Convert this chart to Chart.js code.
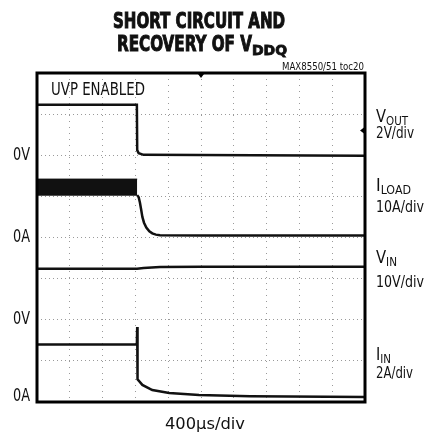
<!DOCTYPE html>
<html>
<head>
<meta charset="utf-8">
<script src="https://cdn.jsdelivr.net/npm/chart.js@4.4.1/dist/chart.umd.min.js"></script>
<style>
  html, body { margin: 0; padding: 0; background: #fff; }
  #wrap { width: 424px; height: 439px; }
</style>
</head>
<body>
<div id="wrap"><canvas id="scope" width="424" height="439"></canvas></div>
<script>
// time base 400us/div, 10 divisions across
const timeTicks = [0, 400, 800, 1200, 1600, 2000, 2400, 2800, 3200, 3600, 4000];

// VOUT (V), 2V/div
const voutTime = [0, 1218, 1222, 1240, 1300, 4000];
const voutVolts = [2.45, 2.45, 0.25, 0.1, 0.02, -0.03];

// ILOAD (A), 10A/div - switching noise band before the short, then decay
const iloadBandTime = [0, 1222];
const iloadBandMax = [14.2, 14.2];
const iloadBandMin = [10.3, 10.3];
const iloadTime = [1222, 1240, 1255, 1270, 1285, 1305, 1333, 1370, 1406, 1450, 1500, 2000, 4000];
const iloadAmps = [10.3, 9.8, 8.5, 6.8, 5.0, 3.6, 2.4, 1.5, 1.0, 0.7, 0.55, 0.5, 0.5];

// VIN (V), 10V/div
const vinTime = [0, 1220, 1300, 1500, 2000, 4000];
const vinVolts = [12.4, 12.4, 12.6, 12.8, 12.9, 12.9];

// IIN (A), 2A/div
const iinTime = [0, 1218, 1222, 1226, 1285, 1406, 1612, 1976, 2600, 4000];
const iinAmps = [2.8, 2.8, 3.65, 1.1, 0.83, 0.58, 0.44, 0.34, 0.28, 0.24];

// channel ground position (divisions from bottom) and scale per division
const voutGround = 6, voutPerDiv = 2;
const iloadGround = 4, iloadPerDiv = 10;
const vinGround = 2, vinPerDiv = 10;
const iinGround = 0, iinPerDiv = 2;

const FONT = '"Liberation Sans Narrow", "DejaVu Sans Condensed", "Roboto", sans-serif';
const INK = '#111';

const toPoints = (times, vals, ground, perDiv) =>
    times.map((t, i) => ({ x: t, y: ground + vals[i] / perDiv }));

const trace = (data, extra) => Object.assign({
    data,
    borderColor: INK,
    borderWidth: 2.5,
    pointRadius: 0,
    fill: false,
    tension: 0
}, extra || {});

// squeeze text horizontally to a target width (condensed scope-plot lettering)
const fitText = (ctx, text, x, y, width, heavy) => {
    const w = ctx.measureText(text).width;
    const sx = width ? width / w : 1;
    ctx.save();
    ctx.translate(x, y);
    ctx.scale(sx, 1);
    ctx.fillText(text, 0, 0);
    if (heavy) {
        ctx.lineWidth = heavy;
        ctx.strokeStyle = ctx.fillStyle;
        ctx.strokeText(text, 0, 0);
    }
    ctx.restore();
    return w * sx;
};

// main letter + subscript squeezed together to a total width
const subLabel = (ctx, main, sub, x, y, size, width) => {
    const mainFont = `${size}px ${FONT}`;
    const subFont = `${Math.round(size * 0.7)}px ${FONT}`;
    ctx.font = mainFont;
    const wm = ctx.measureText(main).width;
    ctx.font = subFont;
    const ws = ctx.measureText(sub).width;
    const k = width / (wm + ws);
    ctx.font = mainFont;
    fitText(ctx, main, x, y, wm * k);
    ctx.font = subFont;
    fitText(ctx, sub, x + wm * k, y + 3, ws * k);
};

const decor = {
    id: 'decor',
    afterDraw(chart) {
        const { ctx, chartArea: a } = chart;
        ctx.save();
        // frame
        ctx.strokeStyle = '#000';
        ctx.lineWidth = 3;
        ctx.strokeRect(a.left, a.top, a.right - a.left, a.bottom - a.top);

        // trigger markers
        ctx.fillStyle = '#000';
        const cx = chart.scales.x.getPixelForValue(2000);
        ctx.beginPath();
        ctx.moveTo(cx - 3, a.top + 1);
        ctx.lineTo(cx + 3, a.top + 1);
        ctx.lineTo(cx, a.top + 5);
        ctx.fill();
        const ty = chart.scales.y.getPixelForValue(6.6);
        ctx.beginPath();
        ctx.moveTo(a.right - 1, ty - 3);
        ctx.lineTo(a.right - 1, ty + 3);
        ctx.lineTo(a.right - 5, ty);
        ctx.fill();

        ctx.fillStyle = INK;
        ctx.textBaseline = 'alphabetic';
        ctx.textAlign = 'left';

        // title
        ctx.font = `bold 22px ${FONT}`;
        fitText(ctx, 'SHORT CIRCUIT AND', 113, 28, 172, 1);
        const w2 = fitText(ctx, 'RECOVERY OF V', 117, 51, 135, 1);
        ctx.font = `bold 14px ${FONT}`;
        fitText(ctx, 'DDQ', 117 + w2, 55, 35, 0.8);

        ctx.font = `10px ${FONT}`;
        fitText(ctx, 'MAX8550/51 toc20', 282, 70, 82);

        ctx.font = `17px ${FONT}`;
        fitText(ctx, 'UVP ENABLED', 51, 95, 94);

        // ground references
        ctx.textBaseline = 'middle';
        ctx.font = `17px ${FONT}`;
        const y = chart.scales.y;
        fitText(ctx, '0V', 13, y.getPixelForValue(voutGround), 17);
        fitText(ctx, '0A', 13, y.getPixelForValue(iloadGround), 17);
        fitText(ctx, '0V', 13, y.getPixelForValue(vinGround), 17);
        fitText(ctx, '0A', 13, y.getPixelForValue(iinGround) - 5, 17);

        // channel names and scales
        ctx.textBaseline = 'alphabetic';
        subLabel(ctx, 'V', 'OUT', 376, 122, 17, 32);
        ctx.font = `16px ${FONT}`;
        fitText(ctx, '2V/div', 376, 138, 38);
        subLabel(ctx, 'I', 'LOAD', 376, 191, 17, 35);
        ctx.font = `16px ${FONT}`;
        fitText(ctx, '10A/div', 376, 212, 48);
        subLabel(ctx, 'V', 'IN', 376, 263, 17, 21);
        ctx.font = `16px ${FONT}`;
        fitText(ctx, '10V/div', 376, 287, 48);
        subLabel(ctx, 'I', 'IN', 376, 360, 17, 15);
        ctx.font = `16px ${FONT}`;
        fitText(ctx, '2A/div', 376, 378, 37);

        ctx.font = `16px ${FONT}`;
        fitText(ctx, '400\u00B5s/div', 165, 429, 80);
        ctx.restore();
    }
};

new Chart(document.getElementById('scope'), {
    type: 'line',
    data: {
        datasets: [
            trace(toPoints(voutTime, voutVolts, voutGround, voutPerDiv)),
            trace(toPoints(iloadBandTime, iloadBandMax, iloadGround, iloadPerDiv), { borderWidth: 1 }),
            trace(toPoints(iloadBandTime, iloadBandMin, iloadGround, iloadPerDiv), { borderWidth: 1, fill: '-1', backgroundColor: INK }),
            trace(toPoints(iloadTime, iloadAmps, iloadGround, iloadPerDiv)),
            trace(toPoints(vinTime, vinVolts, vinGround, vinPerDiv)),
            trace(toPoints(iinTime, iinAmps, iinGround, iinPerDiv))
        ]
    },
    options: {
        responsive: false,
        animation: false,
        layout: { padding: { left: 37, top: 73, right: 59, bottom: 37 } },
        plugins: { legend: { display: false }, tooltip: { enabled: false } },
        scales: {
            x: {
                type: 'linear',
                min: timeTicks[0],
                max: timeTicks[timeTicks.length - 1],
                afterBuildTicks: s => { s.ticks = timeTicks.map(v => ({ value: v })); },
                ticks: { display: false },
                grid: { color: '#9a9a9a', drawTicks: false, lineWidth: 1 },
                border: { display: false, dash: [1, 5] }
            },
            y: {
                type: 'linear',
                min: 0,
                max: 8,
                ticks: { display: false, stepSize: 1 },
                grid: { color: '#9a9a9a', drawTicks: false, lineWidth: 1 },
                border: { display: false, dash: [1, 3] }
            }
        }
    },
    plugins: [decor]
});
</script>
</body>
</html>
